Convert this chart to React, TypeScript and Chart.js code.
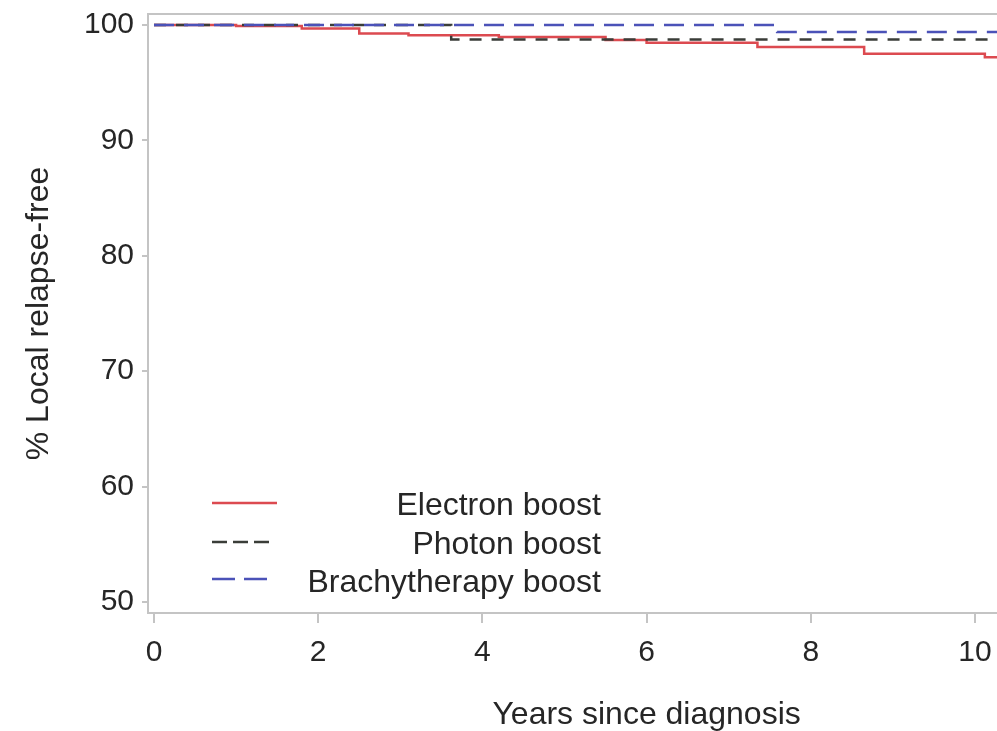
import React, { useEffect, useRef } from 'react';
import { Chart, registerables } from 'chart.js';

Chart.register(...registerables);

// ---- Data ----
const seriesNames = ['Electron boost', 'Photon boost', 'Brachytherapy boost'];

const electronTimes = [0, 1.0, 1.8, 2.5, 3.1, 4.2, 5.5, 6.0, 7.35, 8.65, 10.12, 10.4];
const electronValues = [100, 99.9, 99.7, 99.25, 99.1, 98.95, 98.7, 98.45, 98.1, 97.5, 97.2, 97.2];

const photonTimes = [0, 3.62, 10.4];
const photonValues = [100, 98.75, 98.75];

const brachyTimes = [0, 7.59, 10.4];
const brachyValues = [100, 99.38, 99.38];

const xTicks = [0, 2, 4, 6, 8, 10];
const yTicks = [50, 60, 70, 80, 90, 100];

const xTitle = 'Years since diagnosis';
const yTitle = '% Local relapse-free';

const FONT = "'Liberation Sans', Arial, sans-serif";
const AXIS_GRAY = '#c4c4c4';
const TEXT = '#262626';

const colors = ['#dc4a50', '#3a3d38', '#4b52b8'];
const dashes: number[][] = [[], [12, 10], [20, 10]];
const legendDashes: number[][] = [[], [15, 6], [23, 9]];
const legendLineLen = [65, 58, 55];

function toPoints(t: number[], v: number[]) {
  return t.map((x, i) => ({ x, y: v[i] }));
}

const framePlugin = {
  id: 'framePlugin',
  afterDraw(chart: any) {
    const { ctx, chartArea } = chart;
    const { left, right, top, bottom } = chartArea;
    ctx.save();
    // top frame line
    ctx.strokeStyle = AXIS_GRAY;
    ctx.lineWidth = 2;
    ctx.beginPath();
    ctx.moveTo(left, top);
    ctx.lineTo(right, top);
    ctx.stroke();

    // legend inside plot
    const lineOffsets = [110, 71, 34];
    const textOffsets = [107, 68, 30];
    chart.data.datasets.forEach((ds: any, i: number) => {
      const y = bottom - lineOffsets[i];
      ctx.strokeStyle = ds.borderColor;
      ctx.lineWidth = 2.5;
      ctx.setLineDash(legendDashes[i]);
      ctx.beginPath();
      ctx.moveTo(left + 64, y);
      ctx.lineTo(left + 64 + legendLineLen[i], y);
      ctx.stroke();
      ctx.setLineDash([]);
      ctx.fillStyle = TEXT;
      ctx.font = `32px ${FONT}`;
      ctx.textAlign = 'right';
      ctx.textBaseline = 'middle';
      ctx.fillText(ds.label, left + 453, bottom - textOffsets[i]);
    });

    // x-axis title
    const xs = chart.scales.x;
    ctx.fillStyle = TEXT;
    ctx.font = `32px ${FONT}`;
    ctx.textAlign = 'center';
    ctx.textBaseline = 'alphabetic';
    ctx.fillText(xTitle, xs.getPixelForValue(6), bottom + 111);
    ctx.restore();
  },
};

export default function App() {
  const ref = useRef<HTMLCanvasElement | null>(null);

  useEffect(() => {
    if (!ref.current) return;
    const chart = new Chart(ref.current, {
      type: 'line',
      data: {
        datasets: [
          { label: seriesNames[0], data: toPoints(electronTimes, electronValues) },
          { label: seriesNames[1], data: toPoints(photonTimes, photonValues) },
          { label: seriesNames[2], data: toPoints(brachyTimes, brachyValues) },
        ].map((d, i) => ({
          ...d,
          borderColor: colors[i],
          backgroundColor: colors[i],
          borderDash: dashes[i],
          borderWidth: 2.5,
          pointRadius: 0,
          stepped: true,
          fill: false,
          order: 2 - i,
        })),
      },
      options: {
        responsive: false,
        animation: false,
        devicePixelRatio: 1,
        layout: { padding: { top: 14, left: 0, right: 0, bottom: 0 } },
        plugins: {
          legend: { display: false },
          tooltip: { enabled: false },
        },
        scales: {
          x: {
            type: 'linear',
            min: -0.073,
            max: 10.268,
            afterBuildTicks: (s: any) => {
              s.ticks = xTicks.map((v) => ({ value: v }));
            },
            afterFit: (s: any) => {
              s.height = 118;
              s.paddingLeft = 0;
              s.paddingRight = 0;
            },
            grid: {
              drawOnChartArea: false,
              drawTicks: true,
              tickLength: 10,
              color: AXIS_GRAY,
              tickColor: AXIS_GRAY,
              lineWidth: 2,
            },
            border: { display: true, color: AXIS_GRAY, width: 2 },
            ticks: {
              font: { family: FONT, size: 30 },
              color: TEXT,
              padding: 12,
              maxRotation: 0,
              autoSkip: false,
            },
          },
          y: {
            type: 'linear',
            min: 49.05,
            max: 100.95,
            afterBuildTicks: (s: any) => {
              s.ticks = yTicks.map((v) => ({ value: v }));
            },
            afterFit: (s: any) => {
              s.width = 148;
              s.paddingTop = 0;
              s.paddingBottom = 0;
            },
            grid: {
              drawOnChartArea: false,
              drawTicks: true,
              tickLength: 6,
              color: AXIS_GRAY,
              tickColor: AXIS_GRAY,
              lineWidth: 2,
            },
            border: { display: true, color: AXIS_GRAY, width: 2 },
            ticks: {
              font: { family: FONT, size: 30 },
              color: TEXT,
              padding: 8,
              autoSkip: false,
            },
            title: {
              display: true,
              text: yTitle,
              font: { family: FONT, size: 32 },
              color: TEXT,
              padding: { top: 20, bottom: 0 },
            },
          },
        },
      },
      plugins: [framePlugin],
    });
    return () => chart.destroy();
  }, []);

  return (
    <div
      style={{
        position: 'absolute',
        left: 0,
        top: 0,
        width: 997,
        height: 731,
        overflow: 'hidden',
        background: '#fff',
      }}
    >
      <canvas ref={ref} width={997} height={731} style={{ display: 'block' }} />
    </div>
  );
}
